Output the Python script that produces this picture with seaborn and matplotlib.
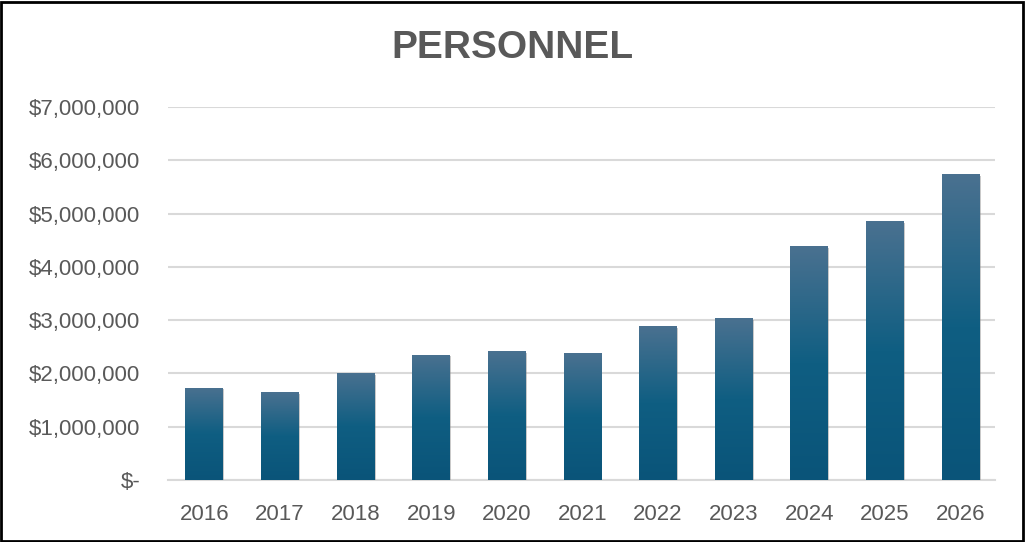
import numpy as np
import pandas as pd
import matplotlib
matplotlib.use("Agg")
import matplotlib.pyplot as plt
import matplotlib.patheffects as pe
from matplotlib.colors import LinearSegmentedColormap
from matplotlib.ticker import FuncFormatter
import seaborn as sns

years = ['2016', '2017', '2018', '2019', '2020', '2021', '2022', '2023', '2024', '2025', '2026']
personnel = [1730000, 1650000, 2010000, 2350000, 2420000, 2380000, 2890000, 3040000, 4390000, 4860000, 5740000]

df = pd.DataFrame({'year': years, 'personnel': personnel})

sns.set_style('white')
plt.rcParams['font.family'] = ['Liberation Sans', 'DejaVu Sans']

fig = plt.figure(figsize=(10.25, 5.42), dpi=100)
ax = fig.add_axes([0.164, 0.1144, 0.807, 0.6882])

sns.barplot(data=df, x='year', y='personnel', color='#0f5e82', width=0.5, ax=ax,
            zorder=3, linewidth=0)

# gradient fill, lighter at the top
cmap = LinearSegmentedColormap.from_list('bar', ['#0a5479', '#0f5e82', '#4a7190'])
grad = np.linspace(0, 1, 256).reshape(-1, 1)
for p in ax.patches:
    x0, y0 = p.get_x(), p.get_y()
    w, h = p.get_width(), p.get_height()
    p.set_path_effects([pe.SimplePatchShadow(offset=(0.8, -1.2), shadow_rgbFace='#888888', alpha=0.45), pe.Normal()])
    im = ax.imshow(grad, extent=[x0, x0 + w, y0, y0 + h], origin='lower', aspect='auto', cmap=cmap, zorder=4)
    im.set_clip_path(p)

ax.set_xlim(-0.48, 10.46)
ax.set_ylim(0, 7000000)
ax.set_yticks(range(0, 7000001, 1000000))
ax.yaxis.set_major_formatter(FuncFormatter(lambda v, _: '$-' if v == 0 else f'${v:,.0f}'))
ax.grid(axis='y', color='#d9d9d9', linewidth=1.5, zorder=0)
ax.set_axisbelow(True)
for s in ['top', 'right', 'left']:
    ax.spines[s].set_visible(False)
ax.spines['bottom'].set_color('#d9d9d9')
ax.spines['bottom'].set_linewidth(1.5)
ax.tick_params(axis='both', length=0, labelsize=16, labelcolor='#595959')
ax.tick_params(axis='y', pad=20)
ax.tick_params(axis='x', pad=17)
ax.set_xlabel('')
ax.set_ylabel('')

fig.text(0.5, 0.912, 'PERSONNEL', ha='center', va='center', fontsize=28, fontweight='bold', color='#595959')

# outer frame
fig.patches.append(plt.Rectangle((0.001, 0.002), 0.997, 0.995, transform=fig.transFigure,
                                 fill=False, edgecolor='black', linewidth=2))

fig.savefig('out.png', dpi=100)
